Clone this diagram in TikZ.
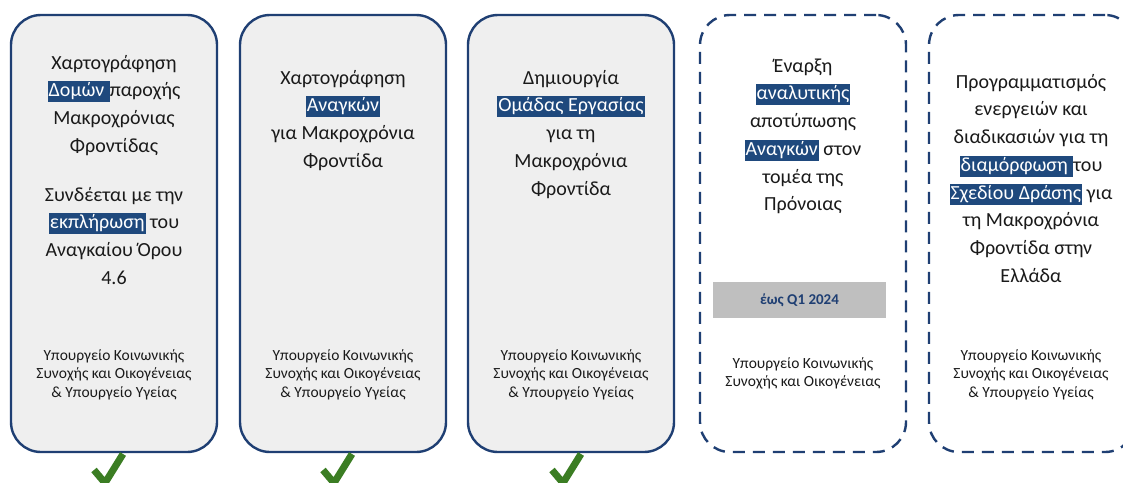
\documentclass[tikz,border=0pt]{standalone}
\usepackage{fontspec}
\setmainfont{Carlito}
\definecolor{navy}{HTML}{1F3F73}
\definecolor{hlblue}{HTML}{1F497D}
\definecolor{boxgray}{HTML}{EFEFEF}
\definecolor{checkgreen}{HTML}{3B7D23}
\definecolor{bargray}{HTML}{BFBFBF}
\definecolor{txt}{HTML}{1A1A1A}
\newcommand{\hlt}[1]{{\setlength{\fboxsep}{1pt}\colorbox{hlblue}{\color{white}\rule[-4.5pt]{0pt}{19pt}#1}}}
\newcommand{\topstrut}{\rule{0pt}{14pt}}
\tikzset{
  solidbox/.style={draw=navy, line width=2.4pt, fill=boxgray, rounded corners=30pt, minimum width=206pt, minimum height=437pt, inner sep=0pt},
  dashbox/.style={draw=navy, line width=2.4pt, dash pattern=on 12pt off 8pt, fill=white, rounded corners=30pt, minimum width=206pt, minimum height=437pt, inner sep=0pt},
  maintext/.style={anchor=north, align=center, inner sep=0pt, text=txt, font=\fontsize{20}{27.7}\selectfont},
  smalltext/.style={anchor=north, align=center, inner sep=0pt, text=txt, font=\fontsize{15.5}{18.5}\selectfont},
  checkmark/.style={draw=checkgreen, line width=7pt},
}
\begin{document}
\begin{tikzpicture}[x=1pt,y=-1pt]
\clip (0,0) rectangle (1123,482);
\fill[white] (0,0) rectangle (1123,482);
% boxes
\node[solidbox] (b1) at (114,233.5) {};
\node[solidbox] (b2) at (343,233.5) {};
\node[solidbox] (b3) at (571,233.5) {};
\node[dashbox]  (b4) at (803,233.5) {};
\node[dashbox]  (b5) at (1032,233.5) {};
% box 1
\node[maintext] (t1) at (114,55) {\topstrut Χαρτογράφηση\\\hlt{Δομών }παροχής\\Μακροχρόνιας\\Φροντίδας\\[21pt]Συνδέεται με την\\\hlt{εκπλήρωση} του\\Αναγκαίου Όρου\\4.6};
\node[smalltext] (s1) at (114,346) {\topstrut Υπουργείο Κοινωνικής\\Συνοχής και Οικογένειας\\\& Υπουργείο Υγείας};
% box 2
\node[maintext] (t2) at (343,70) {\topstrut Χαρτογράφηση\\\hlt{Αναγκών}\\για Μακροχρόνια\\Φροντίδα};
\node[smalltext] (s2) at (343,346) {\topstrut Υπουργείο Κοινωνικής\\Συνοχής και Οικογένειας\\\& Υπουργείο Υγείας};
% box 3
\node[maintext] (t3) at (571,70) {\topstrut Δημιουργία\\\hlt{Ομάδας Εργασίας}\\για τη\\Μακροχρόνια\\Φροντίδα};
\node[smalltext] (s3) at (571,346) {\topstrut Υπουργείο Κοινωνικής\\Συνοχής και Οικογένειας\\\& Υπουργείο Υγείας};
% box 4
\node[maintext] (t4) at (803,58) {\topstrut Έναρξη\\\hlt{αναλυτικής}\\αποτύπωσης\\\hlt{Αναγκών} στον\\τομέα της\\Πρόνοιας};
\node[fill=bargray, minimum width=173pt, minimum height=36pt, inner sep=0pt] (bar) at (799.5,300) {};
\node[font=\fontsize{15}{17}\selectfont\bfseries, text=navy] (q) at (bar.center) {έως Q1 2024};
\node[smalltext] (s4) at (803,354) {\topstrut Υπουργείο Κοινωνικής\\Συνοχής και Οικογένειας};
% box 5
\node[maintext] (t5) at (1031,74) {\topstrut Προγραμματισμός\\ενεργειών και\\διαδικασιών για τη\\\hlt{διαμόρφωση }του\\\hlt{Σχεδίου Δράσης} για\\τη Μακροχρόνια\\Φροντίδα στην\\Ελλάδα};
\node[smalltext] (s5) at (1031,346) {\topstrut Υπουργείο Κοινωνικής\\Συνοχής και Οικογένειας\\\& Υπουργείο Υγείας};
% check marks
\foreach \cx/\n in {108/1,337/2,566/3}{
  \coordinate (c\n a) at (\cx-14,470);
  \coordinate (c\n b) at (\cx-3,483);
  \coordinate (c\n c) at (\cx+15,454);
  \draw[checkmark] (c\n a) -- (c\n b) -- (c\n c);
}
\end{tikzpicture}
\end{document}
